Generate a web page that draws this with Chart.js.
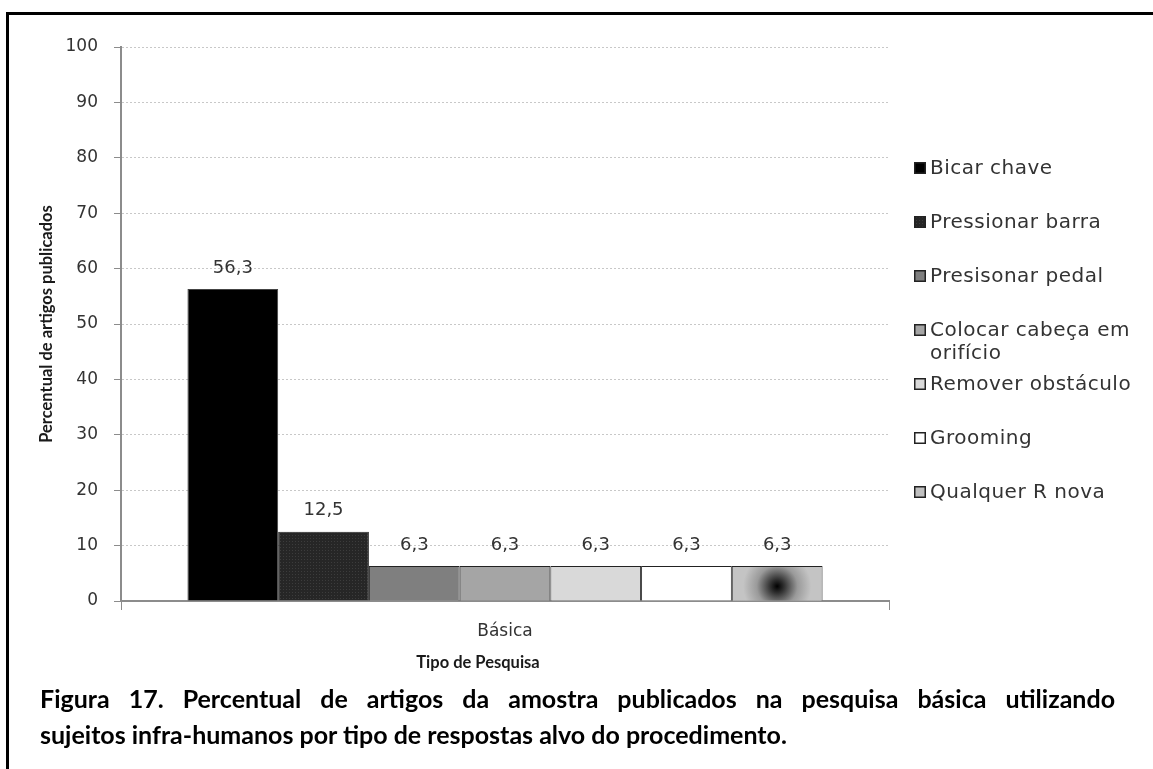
<!DOCTYPE html>
<html>
<head>
<meta charset="utf-8">
<script src="https://cdn.jsdelivr.net/npm/chart.js@4.4.1/dist/chart.umd.min.js"></script>
<style>
  html, body { margin: 0; padding: 0; background: #fff; }
  body { width: 1153px; height: 769px; position: relative; overflow: hidden; }
  #frame { position: absolute; left: 6px; top: 12px; right: 0; bottom: 0;
           border-top: 3px solid #000; border-left: 3px solid #000; }
  #wrap { position: absolute; left: 0; top: 0; width: 1153px; height: 685px; }
  #caption { position: absolute; left: 40px; top: 680px; width: 1075px;
             font: bold 25px Lato, "Noto Sans", sans-serif; line-height: 36px; color: #000; }
  #caption .l1 { text-align: justify; text-align-last: justify; white-space: nowrap; }
</style>
</head>
<body>
<div id="frame"></div>
<div id="wrap"><canvas id="chart" width="1153" height="685"></canvas></div>
<div id="caption">
  <div class="l1">Figura 17. Percentual de artigos da amostra publicados na pesquisa básica utilizando</div>
  <div>sujeitos infra-humanos por tipo de respostas alvo do procedimento.</div>
</div>
<script>
// data
const categories = ['Básica'];
const responseTypes = ['Bicar chave', 'Pressionar barra', 'Presisonar pedal',
  ['Colocar cabeça em', 'orifício'], 'Remover obstáculo', 'Grooming', 'Qualquer R nova'];
const percentages = [56.3, 12.5, 6.3, 6.3, 6.3, 6.3, 6.3];
const yTicks = [0, 10, 20, 30, 40, 50, 60, 70, 80, 90, 100];
const xTitle = 'Tipo de Pesquisa';

const fills = ['#000000', '#262626', '#7f7f7f', '#a5a5a5', '#d9d9d9', '#ffffff', '#c0c0c0'];
const textFont = 'DejaVu Sans';
const titleFont = 'Lato';

// dotted fill for the second bar
function dotPattern() {
  const c = document.createElement('canvas');
  c.width = 3; c.height = 3;
  const g = c.getContext('2d');
  g.fillStyle = '#262626'; g.fillRect(0, 0, 3, 3);
  g.fillStyle = '#3c3c3c'; g.fillRect(1, 1, 1, 1);
  return g.createPattern(c, 'repeat');
}

const ctx = document.getElementById('chart').getContext('2d');

const datasets = responseTypes.map((name, i) => ({
  label: Array.isArray(name) ? name.join(' ') : name,
  data: [percentages[i]],
  backgroundColor: i === 1 ? dotPattern() : fills[i],
  borderColor: i === 0 ? '#444' : '#222',
  borderWidth: 1,
  borderSkipped: 'bottom',
  categoryPercentage: 0.827,
  barPercentage: 1
}));

// value labels on top of bars + radial fill for the last bar
const barExtras = {
  id: 'barExtras',
  afterDatasetsDraw(chart) {
    const c = chart.ctx;
    const last = chart.getDatasetMeta(6).data[0];
    if (last) {
      const l = last.x - last.width / 2, r = last.x + last.width / 2;
      const t = last.y, b = last.base;
      const cx = last.x, cy = (t + b) / 2 + 3;
      const grad = c.createRadialGradient(cx, cy, 0, cx, cy, 34);
      grad.addColorStop(0, '#000');
      grad.addColorStop(0.2, '#303030');
      grad.addColorStop(0.6, '#9a9a9a');
      grad.addColorStop(1, '#c4c4c4');
      c.save();
      c.fillStyle = grad;
      c.fillRect(l + 1, t + 1, r - l - 2, b - t - 1);
      c.restore();
    }
    c.save();
    c.font = '18px "' + textFont + '"';
    c.fillStyle = '#333';
    c.textAlign = 'center';
    c.textBaseline = 'middle';
    chart.data.datasets.forEach((ds, i) => {
      const el = chart.getDatasetMeta(i).data[0];
      c.fillText(ds.data[0].toFixed(1).replace('.', ','), el.x, el.y - 21);
    });
    c.restore();
  }
};

// legend at the right and the x axis title (sits left of centre in the original)
const sideLegend = {
  id: 'sideLegend',
  afterDraw(chart) {
    const c = chart.ctx;
    const area = chart.chartArea;
    const step = 54, lineH = 23;
    const x0 = area.right + 25;
    const yStart = (area.top + area.bottom) / 2 - step * (responseTypes.length - 1) / 2 + 6;
    c.save();
    c.font = '20px "' + textFont + '"';
    c.letterSpacing = '0.5px';
    c.textBaseline = 'middle';
    responseTypes.forEach((name, i) => {
      const y = yStart + i * step;
      const ds = chart.data.datasets[i];
      c.fillStyle = ds.backgroundColor;
      c.fillRect(x0, y - 6, 12, 12);
      c.strokeStyle = '#222';
      c.lineWidth = 1.5;
      c.strokeRect(x0 + 0.75, y - 5.25, 10.5, 10.5);
      c.fillStyle = '#333';
      const lines = Array.isArray(name) ? name : [name];
      lines.forEach((ln, k) => c.fillText(ln, x0 + 16, y + 1 + k * lineH));
    });
    c.restore();

    c.save();
    c.font = 'bold 16.5px ' + titleFont;
    c.fillStyle = '#1a1a1a';
    c.textAlign = 'center';
    c.textBaseline = 'middle';
    c.fillText(xTitle, (area.left + area.right) / 2 - 27, area.bottom + 62);
    c.restore();
  }
};

new Chart(ctx, {
  type: 'bar',
  data: { labels: categories, datasets: datasets },
  options: {
    responsive: false,
    animation: false,
    layout: { padding: { left: 30, right: 264, top: 47, bottom: 0 } },
    plugins: {
      legend: { display: false },
      tooltip: { enabled: false }
    },
    scales: {
      x: {
        offset: true,
        grid: { display: true, drawOnChartArea: false, offset: true, tickLength: 9, color: '#8c8c8c' },
        border: { color: '#8c8c8c', width: 2 },
        ticks: { color: '#333', padding: 11, font: { family: textFont, size: 17 } },
        title: { display: false },
        afterFit(scale) { scale.height = 84; }
      },
      y: {
        min: 0,
        max: 100,
        afterBuildTicks(scale) { scale.ticks = yTicks.map(v => ({ value: v })); },
        grid: { color: '#c8c8c8', tickColor: '#8c8c8c', tickLength: 7 },
        border: { color: '#8c8c8c', width: 2, dash: [2, 2] },
        ticks: { color: '#333', padding: 16, font: { family: textFont, size: 17 } },
        title: { display: true, text: 'Percentual de artigos publicados', color: '#1a1a1a',
                 font: { family: titleFont, size: 16.5, weight: 'bold' }, padding: { top: 7, bottom: 0 } },
        afterFit(scale) { scale.width = 121 - 30; }
      }
    }
  },
  plugins: [barExtras, sideLegend]
});
</script>
</body>
</html>
